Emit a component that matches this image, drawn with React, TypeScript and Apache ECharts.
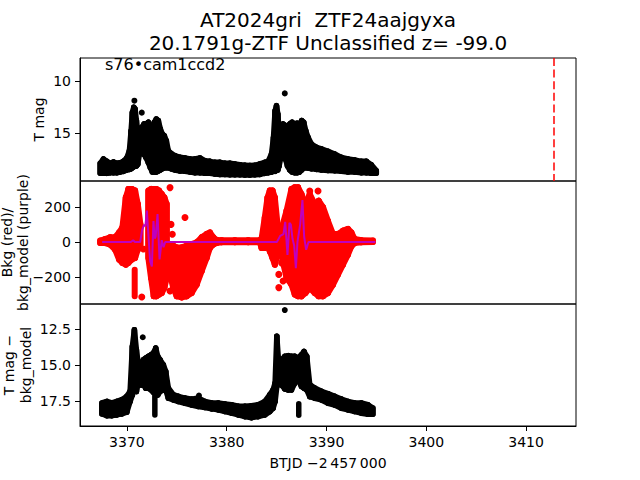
import React, { useEffect, useRef } from 'react';
import * as echarts from 'echarts';

const FONT = 'DejaVu Sans';

const titleLines = ['AT2024gri  ZTF24aajgyxa', '20.1791g-ZTF Unclassified z= -99.0'];
const sectorLabel = 's76\u2022cam1ccd2';
const xAxisName = 'BTJD \u22122\u2009457\u2009000';
const yNames = ['T mag', 'Bkg (red)/\nbkg_model (purple)', 'T mag \u2212\nbkg_model'];
const xTicks = [3370, 3380, 3390, 3400, 3410];
const tmagTicks = [10, 15];
const bkgTicks = [-200, 0, 200];
const diffTicks = [12.5, 15, 17.5];
const discoveryX = 3412.74;

// [BTJD, upper edge value, lower edge value] of the dense point cloud
const tmagBand = [
  [3367.32, 17.86, 18.82], [3367.65, 17.45, 18.82], [3367.99, 17.67, 18.82], [3368.32, 17.86, 18.76],
  [3368.65, 17.73, 18.76], [3368.99, 17.86, 18.76], [3369.32, 17.80, 18.70], [3369.65, 17.67, 18.63],
  [3369.99, 17.35, 18.50], [3370.25, 16.65, 18.44], [3370.42, 14.74, 18.38], [3370.55, 12.99, 18.28],
  [3370.69, 12.51, 18.19], [3370.82, 12.67, 18.12], [3370.95, 13.78, 18.12], [3371.09, 15.06, 17.96],
  [3371.25, 14.58, 17.01], [3371.49, 14.42, 16.69], [3371.72, 14.10, 17.01], [3371.92, 14.10, 17.33],
  [3372.15, 13.94, 17.80], [3372.35, 14.26, 18.28], [3372.55, 14.42, 18.70], [3372.75, 13.94, 18.70],
  [3372.95, 13.63, 18.70], [3373.15, 13.78, 18.60], [3373.35, 14.58, 18.50], [3373.55, 15.06, 18.38],
  [3373.75, 15.22, 18.28], [3373.95, 15.70, 18.28], [3374.15, 16.65, 18.28], [3374.42, 16.91, 18.38],
  [3374.82, 17.13, 18.50], [3375.32, 17.29, 18.60], [3375.82, 17.35, 18.63], [3376.32, 17.45, 18.70],
  [3376.82, 17.45, 18.76], [3377.32, 17.35, 18.76], [3377.82, 17.61, 18.82], [3378.32, 17.67, 18.82],
  [3378.82, 17.77, 18.89], [3379.32, 17.77, 18.92], [3379.82, 17.86, 18.92], [3380.32, 17.86, 18.95],
  [3380.82, 17.92, 18.95], [3381.32, 17.99, 18.95], [3381.82, 18.05, 18.98], [3382.32, 18.08, 18.98],
  [3382.82, 18.05, 18.95], [3383.32, 17.92, 18.92], [3383.82, 17.77, 18.82], [3384.15, 17.67, 18.76],
  [3384.49, 16.97, 18.70], [3384.69, 15.38, 18.63], [3384.85, 12.83, 18.63], [3384.99, 12.35, 18.50],
  [3385.12, 13.15, 18.50], [3385.25, 14.74, 18.12], [3385.42, 14.42, 17.33], [3385.65, 14.10, 17.01],
  [3385.89, 14.26, 17.48], [3386.09, 14.42, 18.12], [3386.32, 14.10, 18.50], [3386.55, 13.94, 18.70],
  [3386.82, 14.10, 18.76], [3387.05, 14.03, 18.76], [3387.29, 14.10, 18.70], [3387.52, 13.78, 18.50],
  [3387.72, 13.94, 18.28], [3387.92, 14.74, 18.28], [3388.15, 15.38, 18.31], [3388.49, 16.01, 18.38],
  [3388.99, 16.33, 18.44], [3389.49, 16.49, 18.50], [3390.15, 16.71, 18.54], [3390.82, 16.97, 18.57],
  [3391.49, 17.29, 18.63], [3392.15, 17.45, 18.70], [3392.82, 17.54, 18.70], [3393.49, 17.67, 18.76],
  [3393.99, 17.67, 18.76], [3394.49, 17.99, 18.82], [3394.99, 18.56, 18.82],
];
const tmagDots = [[3370.75, 11.88], [3371.49, 13.02], [3385.82, 11.18]];

const bkgBandA = [
  [3367.32, 8, -6], [3367.82, 17, -6], [3368.32, 27, -15], [3368.82, 27, -44], [3369.22, 55, -101],
  [3369.55, 84, -121], [3369.89, 256, -130], [3370.15, 304, -120], [3370.49, 304, -101],
  [3370.82, 295, -92], [3371.09, 218, -44], [3371.35, 103, -15],
];
const bkgBandB = [
  [3372.15, 295, -92], [3372.42, 304, -207], [3372.69, 304, -312], [3372.95, 304, -312],
  [3373.22, 295, -302], [3373.49, 275, -293], [3373.75, 256, -264], [3373.99, 218, -207],
];
const bkgBandC = [
  [3374.32, -12, -187], [3374.65, -21, -264], [3374.99, -31, -312], [3375.49, -31, -318],
  [3375.99, -21, -312], [3376.49, -12, -293], [3376.99, -2, -245], [3377.49, 27, -168],
  [3377.99, 46, -92], [3378.32, 55, -34], [3378.65, 27, -15], [3378.99, 12, -6],
  [3379.49, 10, -2], [3380.82, 10, -2], [3382.15, 10, -2], [3383.32, 10, -2],
  [3383.49, 17, -34], [3383.82, 142, -34], [3384.09, 256, -15], [3384.32, 295, -54],
  [3384.59, 295, -92], [3384.82, 256, -130], [3385.09, 103, -73], [3385.35, 46, -44],
  [3386.0, 180, -207], [3386.49, 304, -245], [3386.82, 314, -302], [3387.15, 314, -312],
  [3387.49, 275, -312], [3387.89, 218, -293], [3388.32, 275, -264], [3388.82, 218, -293],
  [3389.22, 237, -312], [3389.65, 200, -312], [3390.15, 120, -293], [3390.65, 46, -245],
  [3391.15, 46, -187], [3391.65, 65, -130], [3392.15, 75, -73], [3392.49, 55, -25],
  [3392.82, 17, -6], [3393.49, 10, -2], [3394.65, 8, 0],
];
const bkgStalks = [[3370.78, -160, -312]];
const bkgDots = [
  [3371.49, -316], [3371.65, -40], [3374.32, 312], [3374.42, 101], [3374.55, 44], [3374.49, -128],
  [3374.32, -281], [3375.82, 140], [3385.22, -186], [3385.22, -262], [3385.65, -224],
  [3385.5, -120], [3388.32, 293], [3389.15, 293],
];
const bkgModel = [
  [3367.52, 0], [3370.4, 0], [3370.63, 10], [3370.8, 0], [3371.33, 0], [3371.53, 70],
  [3371.73, 100], [3371.85, 90], [3372.0, 180], [3372.13, 60], [3372.33, -110], [3372.5, -140],
  [3372.66, 120], [3372.78, 20], [3372.88, 30], [3373.07, 160], [3373.27, -100], [3373.49, 10],
  [3373.67, -30], [3373.84, 0], [3385.03, 0], [3385.36, 35], [3385.69, 45], [3385.86, 115],
  [3385.99, 10], [3386.09, -75], [3386.29, 110], [3386.43, 100], [3386.59, 20], [3386.76, -20],
  [3386.93, -150], [3387.09, 0], [3387.36, 100], [3387.59, 240], [3387.76, 30], [3387.96, -45],
  [3388.2, 0], [3394.9, 0],
];

const diffBand = [
  [3367.49, 17.64, 18.40], [3367.99, 17.53, 18.52], [3368.49, 17.64, 18.52], [3368.99, 17.53, 18.47],
  [3369.49, 17.41, 18.40], [3369.99, 17.18, 18.28], [3370.32, 16.83, 17.54], [3370.55, 13.71, 17.08],
  [3370.75, 12.55, 16.39], [3370.95, 13.94, 16.85], [3371.15, 14.98, 16.16], [3371.42, 14.87, 16.39],
  [3371.65, 14.63, 16.39], [3371.89, 14.52, 16.62], [3372.15, 14.40, 16.62], [3372.42, 14.29, 16.73],
  [3372.65, 14.17, 16.90], [3372.89, 13.82, 16.90], [3373.09, 14.40, 17.08], [3373.32, 14.63, 16.85],
  [3373.65, 14.98, 16.73], [3373.89, 15.44, 16.73], [3374.15, 16.60, 17.31], [3374.65, 17.06, 17.43],
  [3375.15, 17.18, 17.54], [3375.82, 17.30, 17.66], [3376.49, 17.37, 17.78], [3377.15, 17.30, 17.89],
  [3377.82, 17.53, 17.96], [3378.49, 17.64, 18.05], [3379.15, 17.64, 18.12], [3379.82, 17.71, 18.24],
  [3380.49, 17.76, 18.35], [3381.15, 17.87, 18.47], [3381.82, 17.87, 18.59], [3382.49, 17.83, 18.66],
  [3383.15, 17.76, 18.59], [3383.82, 17.53, 18.47], [3384.32, 17.06, 18.24], [3384.65, 16.72, 18.01],
  [3384.85, 16.25, 17.54], [3385.02, 13.01, 16.50], [3385.22, 14.98, 16.16], [3385.49, 14.63, 16.39],
  [3385.82, 14.40, 16.66], [3386.15, 14.35, 16.73], [3386.49, 14.40, 16.73], [3386.82, 14.40, 16.27],
  [3387.09, 14.52, 15.92], [3387.49, 14.29, 16.50], [3387.75, 14.06, 16.62], [3388.02, 14.40, 16.73],
  [3388.32, 16.36, 17.20], [3388.82, 16.60, 17.31], [3389.49, 16.83, 17.43], [3390.15, 16.99, 17.66],
  [3390.82, 17.18, 17.78], [3391.49, 17.37, 18.01], [3392.15, 17.53, 18.12], [3392.82, 17.64, 18.24],
  [3393.49, 17.64, 18.35], [3394.15, 17.76, 18.42], [3394.65, 17.99, 18.42],
];
const diffStalks = [[3372.8, 16.6, 18.47], [3387.22, 17.7, 18.5]];
const diffDots = [[3371.59, 13.07], [3385.82, 11.18], [3377.22, 17.13]];

function bandSeries(data: number[][], idx: number, color: string, width: number, connect = true) {
  return {
    type: 'custom',
    xAxisIndex: idx,
    yAxisIndex: idx,
    data,
    encode: { x: 0, y: [1, 2] },
    silent: true,
    z: 2,
    renderItem: (params: any, api: any) => {
      const i = params.dataIndex;
      const x = api.value(0);
      const pT = api.coord([x, api.value(1)]);
      const pB = api.coord([x, api.value(2)]);
      const children: any[] = [
        {
          type: 'line',
          shape: { x1: pT[0], y1: pT[1], x2: pB[0], y2: pB[1] },
          style: { stroke: color, lineWidth: width, lineCap: 'round' },
        },
      ];
      if (connect && i < data.length - 1) {
        const n = data[i + 1];
        const nT = api.coord([n[0], n[1]]);
        const nB = api.coord([n[0], n[2]]);
        children.push({
          type: 'polygon',
          shape: { points: [pT, nT, nB, pB] },
          style: { fill: color, stroke: color, lineWidth: width, lineJoin: 'round' },
        });
      }
      return { type: 'group', children };
    },
  };
}

const tickFont = { fontFamily: FONT, fontSize: 14, color: '#000' };

function makeX(idx: number) {
  const bottom = idx === 2;
  return {
    type: 'value',
    gridIndex: idx,
    min: 3365.3,
    max: 3415.0,
    axisLine: { show: bottom, onZero: false, lineStyle: { color: '#000', width: 1 } },
    axisTick: { show: bottom, length: 5, customValues: xTicks, lineStyle: { color: '#000' } },
    axisLabel: { show: bottom, customValues: xTicks, margin: 9, formatter: (v: number) => String(v), ...tickFont },
    splitLine: { show: false },
  };
}

function makeY(idx: number, min: number, max: number, inverse: boolean, ticks: number[], fmt?: (v: number) => string) {
  return {
    type: 'value',
    gridIndex: idx,
    min,
    max,
    inverse,
    axisLine: { show: true, onZero: false, lineStyle: { color: '#000', width: 1 } },
    axisTick: { show: true, length: 5, customValues: ticks, lineStyle: { color: '#000' } },
    axisLabel: {
      show: true,
      customValues: ticks,
      margin: 9,
      formatter: fmt || ((v: number) => String(v).replace('-', '\u2212')),
      ...tickFont,
    },
    splitLine: { show: false },
  };
}

const gridBase = { left: 80, width: 496, show: true, borderColor: '#000', borderWidth: 1, containLabel: false, outerBoundsMode: 'none' };

function txt(text: string, x: number, y: number, size: number, rotate = 0, align = 'center', lh?: number) {
  return {
    type: 'text',
    x,
    y,
    rotation: rotate,
    style: {
      text,
      fill: '#000',
      font: `${size}px "${FONT}"`,
      fontFamily: FONT,
      fontSize: size,
      textAlign: align,
      align,
      textVerticalAlign: 'middle',
      verticalAlign: 'middle',
      lineHeight: lh || size * 1.2,
    },
  };
}

export default function App() {
  const ref = useRef<HTMLDivElement>(null);
  useEffect(() => {
    if (!ref.current) return;
    const chart = echarts.init(ref.current, null, { renderer: 'svg' });
    const dotStyle = (c: string) => ({ color: c, opacity: 1 });
    const option: any = {
      animation: false,
      backgroundColor: '#fff',
      textStyle: { fontFamily: FONT },
      grid: [
        { ...gridBase, top: 58, height: 123 },
        { ...gridBase, top: 181, height: 123 },
        { ...gridBase, top: 304, height: 122 },
      ],
      xAxis: [makeX(0), makeX(1), makeX(2)],
      yAxis: [
        makeY(0, 7.8, 19.55, true, tmagTicks),
        makeY(1, -356, 350, false, bkgTicks),
        makeY(2, 10.76, 19.24, true, diffTicks, (v: number) => v.toFixed(1)),
      ],
      series: [
        bandSeries(tmagBand, 0, '#000', 5.5),
        {
          type: 'scatter', xAxisIndex: 0, yAxisIndex: 0, data: tmagDots, symbolSize: 6,
          itemStyle: dotStyle('#000'), silent: true, z: 3,
          markLine: {
            silent: true, symbol: 'none', label: { show: false },
            lineStyle: { color: '#ff0000', type: [8, 3.6], width: 1.5, opacity: 1 },
            data: [{ xAxis: discoveryX }],
          },
        },
        bandSeries(bkgBandA, 1, '#ff0000', 6),
        bandSeries(bkgBandB, 1, '#ff0000', 6),
        bandSeries(bkgBandC, 1, '#ff0000', 6),
        bandSeries(bkgStalks, 1, '#ff0000', 6, false),
        {
          type: 'scatter', xAxisIndex: 1, yAxisIndex: 1, data: bkgDots, symbolSize: 7,
          itemStyle: dotStyle('#ff0000'), silent: true, z: 3,
        },
        {
          type: 'line', xAxisIndex: 1, yAxisIndex: 1, data: bkgModel, showSymbol: false, symbol: 'none',
          lineStyle: { color: '#bf00bf', width: 2 }, silent: true, z: 5,
        },
        bandSeries(diffBand, 2, '#000', 5.5),
        bandSeries(diffStalks, 2, '#000', 5.5, false),
        {
          type: 'scatter', xAxisIndex: 2, yAxisIndex: 2, data: diffDots, symbolSize: 6,
          itemStyle: dotStyle('#000'), silent: true, z: 3,
        },
      ],
      graphic: [
        txt(titleLines[0], 328, 20, 20),
        txt(titleLines[1], 328, 43, 20),
        txt(sectorLabel, 105, 64, 16, 0, 'left'),
        txt(yNames[0], 39, 119.5, 14, Math.PI / 2),
        txt(yNames[1], 15, 242.5, 14, Math.PI / 2, 'center', 16),
        txt(yNames[2], 17.5, 365, 14, Math.PI / 2, 'center', 17),
        txt(xAxisName, 328, 463, 14),
      ],
    };
    chart.setOption(option);
    return () => chart.dispose();
  }, []);
  return (
    <div
      ref={ref}
      style={{ position: 'absolute', left: 0, top: 0, width: 640, height: 480 }}
    />
  );
}
